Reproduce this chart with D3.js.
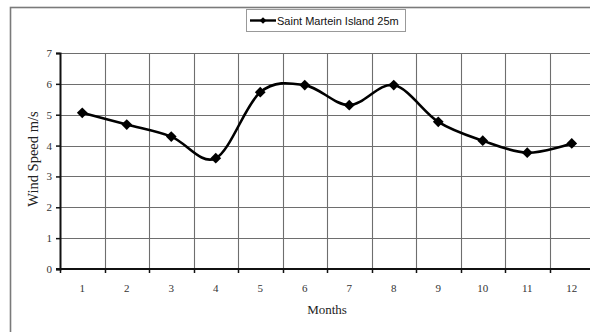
<!DOCTYPE html>
<html>
<head>
<meta charset="utf-8">
<script src="https://cdn.jsdelivr.net/npm/d3@7/dist/d3.min.js"></script>
<style>
  html, body { margin: 0; padding: 0; background: #fff; }
  svg { display: block; }
</style>
</head>
<body>
<svg id="chart" width="590" height="332"></svg>
<script>
// Monthly mean wind speed at 25 m height
const months = [1, 2, 3, 4, 5, 6, 7, 8, 9, 10, 11, 12];
const windSpeed = [5.06, 4.68, 4.29, 3.59, 5.73, 5.96, 5.31, 5.96, 4.77, 4.16, 3.77, 4.07];
const yTicks = [0, 1, 2, 3, 4, 5, 6, 7];
const seriesName = "Saint Martein Island 25m";

const svg = d3.select("#chart");

// outer chart frame (extends past the right and bottom edges)
svg.append("rect")
  .attr("x", 10.5).attr("y", 7.5)
  .attr("width", 600).attr("height", 340)
  .attr("fill", "#fff")
  .attr("stroke", "#7a7a7a")
  .attr("stroke-width", 1.6);

const plot = { left: 60, right: 594, top: 53, bottom: 269 };

const x = d3.scaleBand().domain(months).range([plot.left, plot.right]).padding(0);
const y = d3.scaleLinear().domain([0, 7]).range([plot.bottom, plot.top]);

const g = svg.append("g");

// horizontal gridlines
g.selectAll("line.hgrid")
  .data(yTicks.filter(t => t > 0))
  .join("line")
  .attr("class", "hgrid")
  .attr("x1", plot.left).attr("x2", plot.right)
  .attr("y1", d => Math.round(y(d)) + 0.5).attr("y2", d => Math.round(y(d)) + 0.5)
  .attr("stroke", "#6e6e6e").attr("stroke-width", 1.1);

// vertical gridlines at band boundaries
const bounds = months.slice(1).map(m => x(m));
g.selectAll("line.vgrid")
  .data(bounds)
  .join("line")
  .attr("class", "vgrid")
  .attr("x1", d => Math.round(d) + 0.5).attr("x2", d => Math.round(d) + 0.5)
  .attr("y1", plot.top).attr("y2", plot.bottom)
  .attr("stroke", "#6e6e6e").attr("stroke-width", 1.1);

// y axis
const yAxis = g.append("g")
  .attr("transform", `translate(${plot.left},0)`)
  .call(d3.axisLeft(y).tickValues(yTicks).tickSize(4).tickPadding(4).tickFormat(d3.format("d")));
yAxis.select(".domain").attr("stroke", "#111").attr("stroke-width", 2);
yAxis.selectAll(".tick line").attr("stroke", "#111").attr("stroke-width", 1.5);
yAxis.selectAll(".tick text")
  .attr("font-family", "'Liberation Serif', 'Times New Roman', serif")
  .attr("font-size", 11).attr("fill", "#333");

// x axis: line at zero with ticks at band boundaries
const xAxisG = g.append("g");
xAxisG.append("line")
  .attr("x1", plot.left - 4).attr("x2", plot.right)
  .attr("y1", plot.bottom).attr("y2", plot.bottom)
  .attr("stroke", "#111").attr("stroke-width", 2);
xAxisG.selectAll("line.xt")
  .data([plot.left].concat(bounds))
  .join("line")
  .attr("class", "xt")
  .attr("x1", d => Math.round(d) + 0.5).attr("x2", d => Math.round(d) + 0.5)
  .attr("y1", plot.bottom).attr("y2", plot.bottom + 4)
  .attr("stroke", "#111").attr("stroke-width", 1.5);
xAxisG.selectAll("text")
  .data(months)
  .join("text")
  .attr("x", d => x(d) + x.bandwidth() / 2)
  .attr("y", plot.bottom + 23)
  .attr("text-anchor", "middle")
  .attr("font-family", "'Liberation Serif', 'Times New Roman', serif")
  .attr("font-size", 11).attr("fill", "#333")
  .text(d => d);

// axis titles
svg.append("text")
  .attr("x", 327).attr("y", 314)
  .attr("text-anchor", "middle")
  .attr("font-family", "'Liberation Serif', 'Times New Roman', serif")
  .attr("font-size", 13).attr("fill", "#222")
  .text("Months");
svg.append("text")
  .attr("transform", "translate(38,159) rotate(-90)")
  .attr("text-anchor", "middle")
  .attr("font-family", "'Liberation Serif', 'Times New Roman', serif")
  .attr("font-size", 14.5).attr("fill", "#222")
  .text("Wind Speed m/s");

// data series
const pts = months.map((m, i) => [x(m) + x.bandwidth() / 2, y(windSpeed[i])]);
const line = d3.line().curve(d3.curveCatmullRom.alpha(0));
g.append("path")
  .attr("d", line(pts))
  .attr("fill", "none")
  .attr("stroke", "#000")
  .attr("stroke-width", 2.6)
  .attr("stroke-linejoin", "round");

const diamond = d3.symbol().type(d3.symbolSquare).size(58);
g.selectAll("path.marker")
  .data(pts)
  .join("path")
  .attr("class", "marker")
  .attr("transform", d => `translate(${d[0]},${d[1]}) rotate(45)`)
  .attr("d", diamond)
  .attr("fill", "#000");

// legend
const lg = svg.append("g");
lg.append("rect")
  .attr("x", 246.5).attr("y", 9.5)
  .attr("width", 159).attr("height", 22)
  .attr("fill", "#fff")
  .attr("stroke", "#999").attr("stroke-width", 1);
lg.append("line")
  .attr("x1", 250).attr("x2", 276).attr("y1", 20.5).attr("y2", 20.5)
  .attr("stroke", "#000").attr("stroke-width", 2.4);
lg.append("path")
  .attr("transform", "translate(263,20.5) rotate(45)")
  .attr("d", d3.symbol().type(d3.symbolSquare).size(22))
  .attr("fill", "#000");
lg.append("text")
  .attr("x", 277).attr("y", 24.5)
  .attr("font-family", "'Liberation Sans', Arial, sans-serif")
  .attr("font-size", 11).attr("fill", "#111")
  .text(seriesName);
</script>
</body>
</html>
